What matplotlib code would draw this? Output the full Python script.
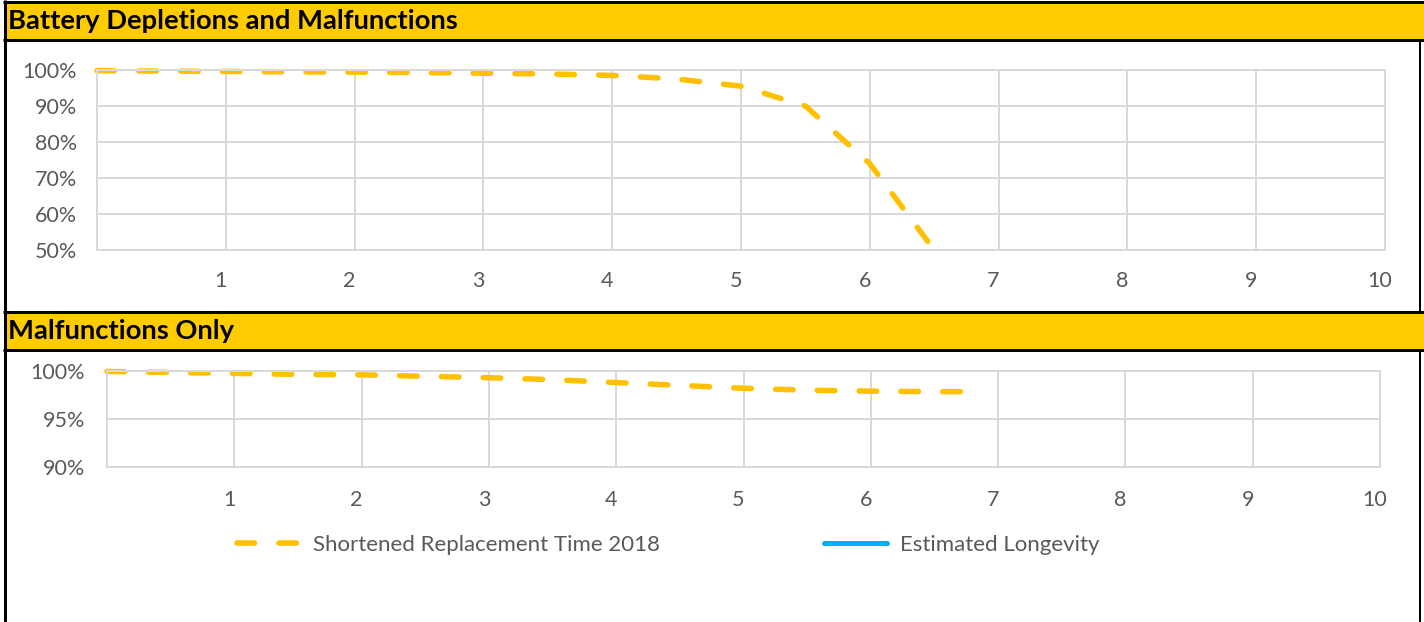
import matplotlib.pyplot as plt
from matplotlib.patches import Rectangle
from matplotlib.transforms import ScaledTranslation

plt.rcParams['font.family'] = ['Lato', 'DejaVu Sans']

# --- data ---
years = list(range(1, 11))
x_labels = [str(v) for v in years]

top_x = [0, 0.5, 1, 1.5, 2, 2.5, 3, 3.5, 4, 4.5, 5, 5.5, 6, 6.5, 7]
top_y = [99.8, 99.7, 99.6, 99.5, 99.4, 99.3, 99.1, 98.9, 98.5, 97.5, 95.5, 90.0, 74.0, 50.0, 20.0]

bot_x = [0, 0.5, 1, 1.5, 2, 2.5, 3, 3.5, 4, 4.5, 5, 5.5, 6, 6.5, 6.8]
bot_y = [99.95, 99.85, 99.75, 99.65, 99.6, 99.45, 99.3, 99.1, 98.8, 98.5, 98.2, 98.0, 97.9, 97.85, 97.85]

top_ticks = [50, 60, 70, 80, 90, 100]
bot_ticks = [90, 95, 100]

series_names = ["Shortened Replacement Time 2018", "Estimated Longevity"]

YELLOW = '#FFC000'
BAR = '#FFCC00'
BLUE = '#00B0F0'
GRID = '#D9D9D9'
TXT = '#595959'

W, H = 1424, 622
fig = plt.figure(figsize=(W / 100, H / 100), dpi=100)

# frame / header bars drawn in pixel coords
frame = fig.add_axes([0, 0, 1, 1], zorder=-1)
frame.set_xlim(0, W)
frame.set_ylim(H, 0)
frame.axis('off')
px = 0.72  # points per pixel at 100 dpi

frame.add_patch(Rectangle((4, 2), W - 4, 37, facecolor=BAR, edgecolor='none'))
frame.add_patch(Rectangle((4, 312), W - 4, 37, facecolor=BAR, edgecolor='none'))
for y in [1.5, 40, 311.5, 350]:
    frame.plot([3, W], [y, y], color='black', lw=3 * px, solid_capstyle='butt')
frame.plot([4.5, 4.5], [0, H], color='black', lw=3 * px, solid_capstyle='butt')
frame.plot([1419.5, 1419.5], [40, 311], color='black', lw=2 * px, solid_capstyle='butt')
frame.plot([1419.5, 1419.5], [350, H], color='black', lw=2 * px, solid_capstyle='butt')

frame.text(8, 21, "Battery Depletions and Malfunctions", fontsize=19.7, fontweight='bold',
           ha='left', va='center', color='black')
frame.text(8, 331, "Malfunctions Only", fontsize=19.7, fontweight='bold',
           ha='left', va='center', color='black')


def style_axis(ax, ticks, pad_x, pad_y):
    ax.set_xlim(0, 10)
    ax.set_xticks(years)
    ax.set_xticklabels(x_labels)
    ax.set_ylim(ticks[0], ticks[-1])
    ax.set_yticks(ticks)
    ax.set_yticklabels([f"{t}%" for t in ticks])
    ax.grid(True, color=GRID, lw=2 * px)
    ax.set_axisbelow(True)
    for s in ax.spines.values():
        s.set_color(GRID)
        s.set_linewidth(2 * px)
    ax.tick_params(length=0, labelsize=15.5, colors=TXT)
    ax.tick_params(axis='x', pad=pad_x)
    ax.tick_params(axis='y', pad=pad_y)
    for lbl in ax.get_xticklabels():
        lbl.set_transform(lbl.get_transform() + ScaledTranslation(-0.05, 0, fig.dpi_scale_trans))


def draw_series(ax, x, y, label):
    line, = ax.plot(x, y, color=YELLOW, lw=5.5 * px, dashes=(3.2, 4.4),
                    dash_capstyle='round', label=label)
    clip = Rectangle((-0.01, 0), 1.02, 1.1, transform=ax.transAxes, facecolor='none')
    line.set_clip_path(clip)
    return line


ax1 = fig.add_axes([97 / W, 1 - 250 / H, 1288 / W, 180 / H])
style_axis(ax1, top_ticks, 15, 14.5)
draw_series(ax1, top_x, top_y, series_names[0])

ax2 = fig.add_axes([107 / W, 1 - 467 / H, 1273 / W, 96 / H])
style_axis(ax2, bot_ticks, 16.5, 16)
draw_series(ax2, bot_x, bot_y, series_names[0])
ax2.plot([], [], color=BLUE, lw=5 * px, solid_capstyle='round', label=series_names[1])

leg = ax2.legend(loc='center left', ncol=2, frameon=False, fontsize=16,
                 handlelength=2.85, handletextpad=0.55, columnspacing=7.4,
                 borderpad=0, borderaxespad=0)
leg.set_bbox_to_anchor((237 / W, 1 - 545 / H), transform=fig.transFigure)
for t in leg.get_texts():
    t.set_color(TXT)

fig.savefig('out.png', dpi=100)
